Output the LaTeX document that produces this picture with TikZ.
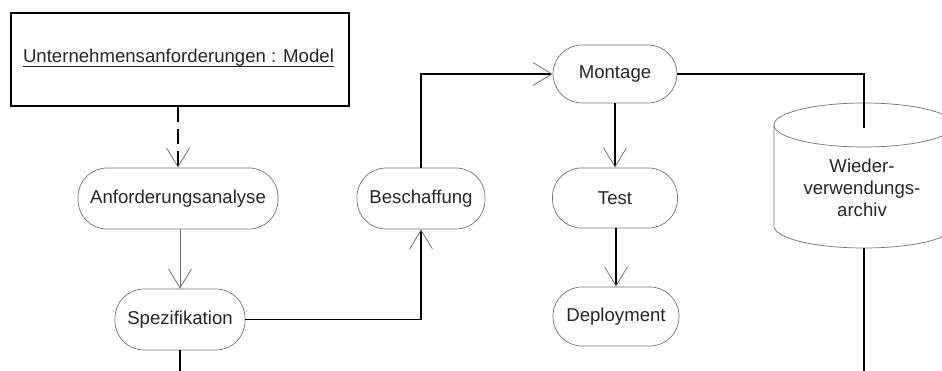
\documentclass[tikz,border=0pt]{standalone}
\usepackage{fontspec}
\setmainfont{Liberation Sans}
\usetikzlibrary{arrows.meta}
\begin{document}
\begin{tikzpicture}[x=1pt,y=-1pt,
  every node/.style={font=\fontsize{18.6}{22}\selectfont, text=black!85},
  activity/.style={draw=black!55, line width=0.7pt, fill=white,
    rounded corners=29pt, minimum height=61pt, inner sep=0pt},
  flow/.style={line width=1.6pt, black},
  thinflow/.style={line width=0.8pt, black!55},
  open/.style={-{Straight Barb[length=19pt,width=23pt,line width=0.8pt,color=black!55]}},
]
\useasboundingbox (0,0) rectangle (942,371);
\clip (0,0) rectangle (942,371);

% class box
\node[draw=black, line width=1.6pt, minimum width=338pt, minimum height=93pt, inner sep=0pt] (model) at (180,59.5) {};
\node[anchor=base, inner sep=0pt] (mtext) at (178.5,63) {Unternehmensanforderungen : Model};
\draw[line width=1.4pt, black!85] ([yshift=-3.5pt]mtext.base west) -- ([yshift=-3.5pt]mtext.base east);

% activities
\node[activity, minimum width=200pt] (anf)  at (178,198.5) {Anforderungsanalyse};
\node[activity, minimum width=130pt] (spez) at (180,319.5) {Spezifikation};
\node[activity, minimum width=128pt] (besch) at (421,198.5) {Beschaffung};
\node[activity, minimum width=124pt, minimum height=58pt] (mont) at (615,74) {Montage};
\node[activity, minimum width=125pt, minimum height=60pt] (test) at (615,198) {Test};
\node[activity, minimum width=126pt, minimum height=59pt] (depl) at (616,316.5) {Deployment};

% repository cylinder (y axis points down, so angles run the other way)
\fill[white] (774,125) -- (774,226) arc[start angle=180,end angle=0,x radius=90,y radius=22]
  -- (954,125) arc[start angle=0,end angle=-180,x radius=90,y radius=22] -- cycle;
\draw[black!55, line width=0.7pt] (774,125) -- (774,226) arc[start angle=180,end angle=0,x radius=90,y radius=22]
  -- (954,125);
\draw[black!55, line width=0.7pt] (864,125) ellipse[x radius=90,y radius=22];
\node[align=center, inner sep=0pt] (archiv) at (862,188) {Wieder-\\verwendungs-\\archiv};
\coordinate (archtop) at (864,128);
\coordinate (archbot) at (864,248);
\coordinate (bottomA) at (864,371);
\coordinate (bottomS) at (180,371);

% connectors
\draw[flow, dash pattern=on 15pt off 7pt, open] (model.south -| anf.north) -- (anf.north);
\draw[thinflow, open] ([xshift=2pt]anf.south) -- ([xshift=2pt]anf.south |- spez.north);
\draw[flow] (spez.south) -- (bottomS);
\draw[flow, open] (spez.east) -- (besch.south |- spez.east) -- (besch.south);
\draw[flow, open] (besch.north) -- (besch.north |- mont.west) -- (mont.west);
\draw[flow, open] (mont.south) -- (test.north);
\draw[flow, open] ([xshift=1pt]test.south) -- ([xshift=1pt]test.south |- depl.north);
\draw[flow] (mont.east) -- (mont.east -| archtop) -- (archtop);
\draw[flow] (archbot) -- (bottomA);
\end{tikzpicture}
\end{document}
